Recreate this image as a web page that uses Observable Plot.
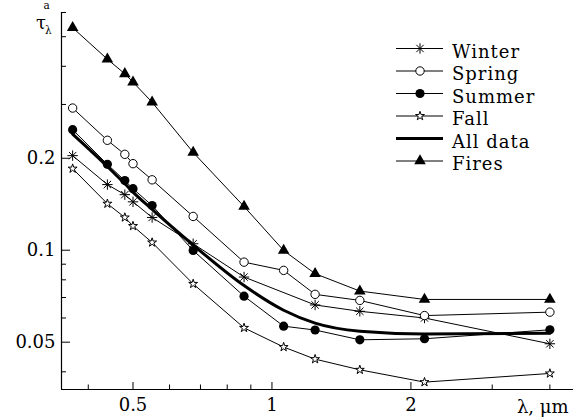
<!DOCTYPE html>
<html><head><meta charset="utf-8">
<script src="https://cdn.jsdelivr.net/npm/d3@7"></script>
<script src="https://cdn.jsdelivr.net/npm/@observablehq/plot@0.6"></script>
<style>
body{margin:0;background:#fff;}
#wrap{position:relative;width:574px;height:419px;}
#wrap svg{display:block}
.overlay{position:absolute;left:0;top:0;pointer-events:none;}
</style></head><body><div id="wrap"></div>
<script>
// wavelengths, µm
const wavelengths = [0.37, 0.44, 0.48, 0.5, 0.55, 0.675, 0.87, 1.06, 1.24, 1.55, 2.14, 4.0];
// aerosol optical depth by season (null = not measured)
const winter  = [0.204, 0.164, 0.152, 0.144, 0.128, 0.105, 0.0817, null,   0.0662, 0.0631, 0.0600, 0.0494];
const spring  = [0.292, 0.229, 0.206, 0.192, 0.170, 0.129, 0.0914, 0.0859, 0.0717, 0.0685, 0.0611, 0.0627];
const summer  = [0.248, 0.191, 0.169, 0.159, 0.140, 0.0998, 0.0707, 0.0564, 0.0548, 0.0509, 0.0513, 0.0549];
const fall    = [0.185, 0.142, 0.128, 0.120, 0.106, 0.0776, 0.0557, 0.0482, 0.0440, 0.0406, 0.0370, 0.0395];
const allData = [0.240, 0.188, 0.165, 0.155, 0.136, 0.104, 0.0766, 0.0636, 0.0577, 0.0543, 0.0532, 0.0535];
const fires   = [0.535, 0.422, 0.378, 0.355, 0.305, 0.209, 0.139, 0.0998, 0.0838, 0.0735, 0.0690, 0.0690];

const seriesNames = ["Winter", "Spring", "Summer", "Fall", "All data", "Fires"];
const xMajorTicks = [0.5, 1, 2];
const xMinorTicks = [0.4, 0.6, 0.7, 0.8, 0.9, 3, 4];
const yMajorTicks = [0.05, 0.1, 0.2];
const yMinorTicks = [0.04, 0.06, 0.07, 0.08, 0.09, 0.3, 0.4, 0.5, 0.6];
const xLabel = "λ, μm";
const xDomain = [0.35, 4.5];
const yDomain = [0.035, 0.6];

const W = 574, H = 419, mL = 61, mR = 1, mT = 12, mB = 30;
const plotW = W - mL - mR, plotH = H - mT - mB;
const FONT = "'DejaVu Serif', serif";

function rows(vals) {
  return wavelengths.map((x, i) => ({x, y: vals[i]})).filter(d => d.y != null);
}
const asterisk = {
  draw(ctx, size) {
    const r = Math.sqrt(size / Math.PI);
    const d = r * Math.SQRT1_2;
    ctx.moveTo(0, -r); ctx.lineTo(0, r);
    ctx.moveTo(-r, 0); ctx.lineTo(r, 0);
    ctx.moveTo(-d, -d); ctx.lineTo(d, d);
    ctx.moveTo(-d, d); ctx.lineTo(d, -d);
  }
};

const styles = {
  "Winter":   {data: winter,  symbol: asterisk,   r: 5.2, fill: "none",  stroke: "black"},
  "Spring":   {data: spring,  symbol: "circle",   r: 4.2, fill: "white", stroke: "black"},
  "Summer":   {data: summer,  symbol: "circle",   r: 4.6, fill: "black", stroke: "none"},
  "Fall":     {data: fall,    symbol: "star",     r: 2.8, fill: "white", stroke: "black"},
  "All data": {data: allData, symbol: null},
  "Fires":    {data: fires,   symbol: "triangle", r: 4.3, fill: "black", stroke: "none"}
};

const marks = [
  Plot.axisX({ticks: xMajorTicks, tickSize: 0, tickPadding: 9, tickFormat: d => String(d), label: null, fontSize: 18}),
  Plot.axisY({ticks: yMajorTicks, tickSize: 0, tickPadding: 6, tickFormat: d => String(d), label: null, fontSize: 18}),
  Plot.tickX(xMinorTicks, {x: d => d, insetTop: plotH - 4.5, stroke: "black"}),
  Plot.tickX(xMajorTicks, {x: d => d, insetTop: plotH - 7, stroke: "black"}),
  Plot.tickY(yMinorTicks, {y: d => d, insetRight: plotW - 5, stroke: "black"}),
  Plot.tickY(yMajorTicks, {y: d => d, insetRight: plotW - 9, stroke: "black"}),
  Plot.ruleX([xDomain[0]], {stroke: "black", strokeWidth: 1.2}),
  Plot.ruleY([yDomain[0]], {stroke: "black", strokeWidth: 1.2}),
  Plot.text([xLabel], {text: d => d, frameAnchor: "bottom-right", dx: -5, dy: 23, textAnchor: "end", lineAnchor: "bottom", fontSize: 18})
];
for (const name of seriesNames) {
  const s = styles[name];
  if (!s.symbol) continue;
  marks.push(Plot.line(rows(s.data), {x: "x", y: "y", stroke: "black", strokeWidth: 1}));
}
marks.push(Plot.line(rows(allData), {x: "x", y: "y", stroke: "black", strokeWidth: 3, curve: "monotone-x"}));
for (const name of seriesNames) {
  const s = styles[name];
  if (!s.symbol) continue;
  marks.push(Plot.dot(rows(s.data), {x: "x", y: "y", symbol: () => s.symbol, r: s.r, fill: s.fill, stroke: s.stroke, strokeWidth: 1}));
}

const chart = Plot.plot({
  width: W, height: H,
  marginLeft: mL, marginRight: mR, marginTop: mT, marginBottom: mB,
  style: {fontFamily: FONT, fontSize: "18px", color: "black", background: "white"},
  x: {type: "log", domain: xDomain},
  y: {type: "log", domain: yDomain},
  symbol: {type: "identity"},
  marks
});
const wrap = document.getElementById("wrap");
wrap.appendChild(chart);

// overlay: y-axis title and legend
const ov = d3.select(wrap).append("svg").attr("class", "overlay")
  .attr("width", W).attr("height", H)
  .style("font-family", FONT);

const yt = ov.append("g");
yt.append("text").attr("x", 36).attr("y", 28.5).attr("font-size", 18).text("τ");
yt.append("text").attr("x", 43.5).attr("y", 9).attr("font-size", 10.5).text("a");
yt.append("text").attr("x", 45).attr("y", 33.5).attr("font-size", 10.5).text("λ");

const lg = ov.append("g");
seriesNames.forEach((name, i) => {
  const s = styles[name];
  const cy = 48.5 + i * 22.5;
  const g = lg.append("g");
  g.append("line").attr("x1", 396).attr("x2", 443).attr("y1", cy).attr("y2", cy)
    .attr("stroke", "black").attr("stroke-width", s.symbol ? 1 : 3);
  if (s.symbol) {
    const type = typeof s.symbol === "string"
      ? {circle: d3.symbolCircle, star: d3.symbolStar, triangle: d3.symbolTriangle}[s.symbol]
      : s.symbol;
    g.append("path").attr("transform", `translate(420,${cy})`)
      .attr("d", d3.symbol().type(type).size(s.r * s.r * Math.PI)())
      .attr("fill", s.fill).attr("stroke", s.stroke).attr("stroke-width", 1);
  }
  g.append("text").attr("x", 452).attr("y", cy + 9).attr("font-size", 18)
    .attr("letter-spacing", 1).text(name);
});
</script></body></html>
